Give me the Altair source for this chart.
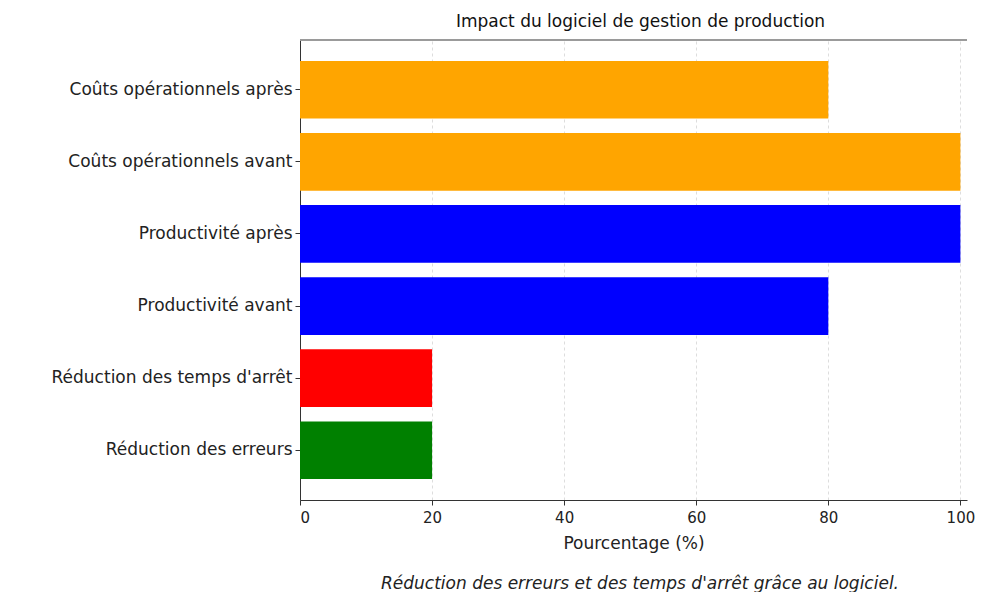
import altair as alt
import pandas as pd

categories = [
    "Coûts opérationnels après",
    "Coûts opérationnels avant",
    "Productivité après",
    "Productivité avant",
    "Réduction des temps d'arrêt",
    "Réduction des erreurs",
]
values = [80, 100, 100, 80, 20, 20]
colors = ["#FFA500", "#FFA500", "#0000FF", "#0000FF", "#FF0000", "#008000"]
x_ticks = [0, 20, 40, 60, 80, 100]

title_text = "Impact du logiciel de gestion de production"
x_title = "Pourcentage (%)"
caption = "Réduction des erreurs et des temps d'arrêt grâce au logiciel."

FONT = "DejaVu Sans"
W, H = 667, 460

df = pd.DataFrame({"cat": categories, "val": values, "col": colors})

bars = alt.Chart(df).mark_bar().encode(
    y=alt.Y(
        "cat:N",
        sort=categories,
        title=None,
        scale=alt.Scale(paddingInner=0.2, paddingOuter=0.29),
        axis=alt.Axis(
            tickSize=5, labelPadding=3, labelLimit=0,
            labelFontSize=17, labelColor="#222222", labelFont=FONT,
            domainColor="#333333", tickColor="#333333", grid=False,
        ),
    ),
    x=alt.X(
        "val:Q",
        title=x_title,
        scale=alt.Scale(domain=[0, 101], nice=False),
        axis=alt.Axis(
            values=x_ticks, tickSize=5, labelPadding=5, labelFontSize=15,
            labelColor="#222222", labelFont=FONT, titleFont=FONT,
            titleFontSize=17, titleFontWeight="normal", titleColor="#222222",
            titlePadding=10, grid=True, gridDash=[3, 3], gridColor="#dddddd",
            domainColor="#333333", tickColor="#333333",
        ),
    ),
    color=alt.Color("col:N", scale=None, legend=None),
)

top_rule = alt.Chart(df).mark_rule(color="#999999", strokeWidth=1).encode(
    x=alt.value(0), x2=alt.value(W), y=alt.value(0)
)

cap = alt.Chart(pd.DataFrame({"t": [caption]})).mark_text(
    font=FONT, fontSize=17, fontStyle="italic", color="#222222", align="center",
    baseline="middle",
).encode(text="t:N", x=alt.value(340), y=alt.value(544))

chart = alt.layer(bars, top_rule, cap).properties(
    width=W,
    height=H,
    title=alt.TitleParams(
        title_text, font=FONT, fontSize=17, fontWeight="normal", color="#111111",
        anchor="middle", dx=7, offset=9,
    ),
    autosize=alt.AutoSizeParams(type="none"),
    padding={"left": 292, "top": 32, "right": 8, "bottom": 92},
).configure_view(stroke=None)

chart.save("out.html", embed_options={"renderer": "svg", "actions": False})
